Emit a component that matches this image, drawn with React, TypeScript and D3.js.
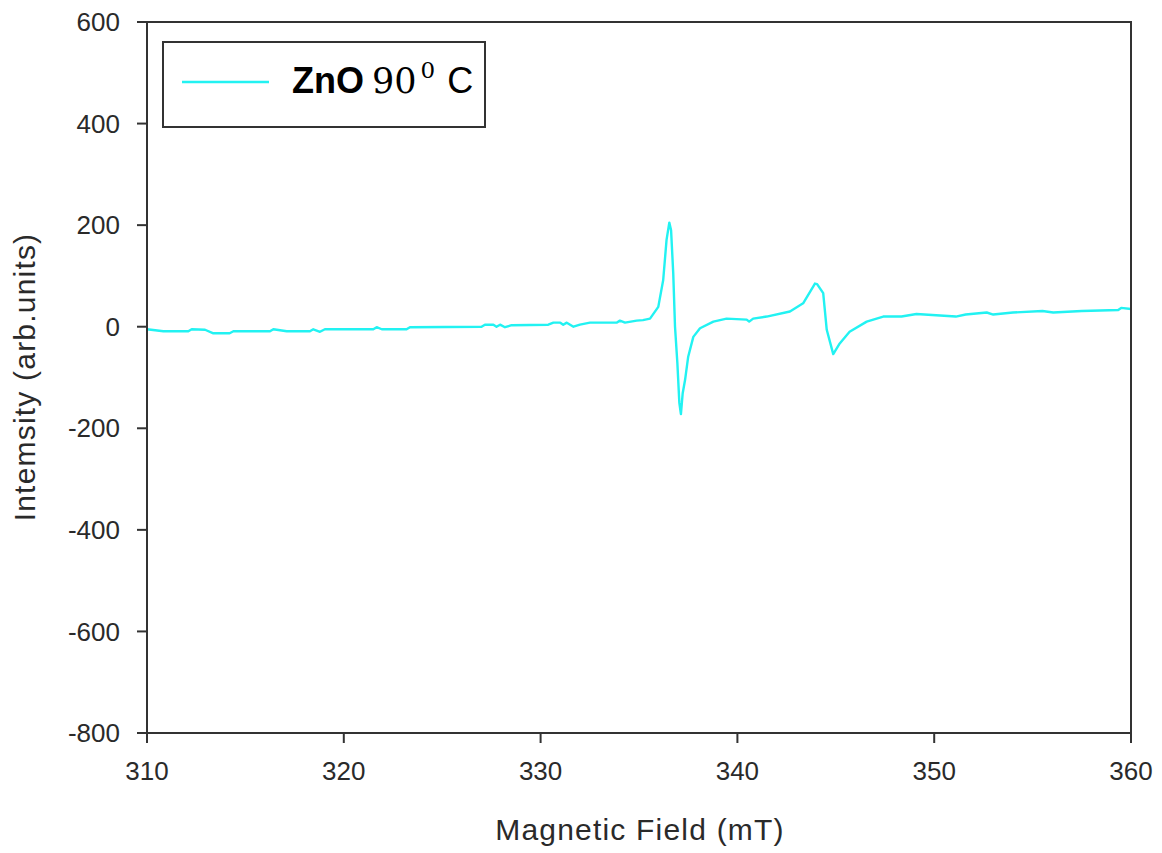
import React from "react";
import * as d3 from "d3";

const fieldMT: number[] = [
  310, 310.83, 312.1, 312.27, 312.95, 313.37, 314.2, 314.39, 316.25, 316.42, 317.1, 318.28, 318.45, 318.79, 319.04,
  321.5, 321.67, 321.93, 323.19, 323.36, 327.0, 327.17, 327.6, 327.76, 327.94, 328.19, 328.53, 330.39, 330.65, 331.0,
  331.15, 331.33, 331.67, 332.0, 332.51, 333.86, 334.03, 334.29, 334.88, 335.2, 335.56, 335.98, 336.23, 336.4, 336.54,
  336.63, 336.74, 336.83, 336.95, 337.05, 337.13, 337.22, 337.34, 337.5, 337.76, 338.1, 338.78, 339.45, 340.47, 340.6,
  340.8, 341.49, 342.67, 343.34, 343.85, 343.94, 344.05, 344.36, 344.54, 344.87, 345.2, 345.7, 346.57, 347.41, 348.34,
  349.1, 351.1, 351.6, 352.67, 353.0, 354.0, 355.5, 356.05, 357.5, 359.35, 359.5, 360,
];
const intensity: number[] = [
  -5, -9, -9, -5, -6, -13, -13, -9, -9, -5, -9, -9, -5, -10, -5,
  -5, -1, -5, -5, -1, 0, 4, 4, 0, 4, -1, 3, 4, 8, 8,
  4, 8, 0, 4, 8, 8, 12, 8, 12, 13, 16, 39, 92, 171, 205,
  190, 105, 0, -72, -150, -172, -131, -105, -59, -20, -3, 10, 16, 14, 10,
  16, 20, 30, 46, 79, 85, 84, 66, -6, -54, -33, -10, 10, 20, 20,
  25, 20, 24, 28, 24, 28, 31, 28, 31, 33, 37, 35,
];
const xTicks: number[] = [310, 320, 330, 340, 350, 360];
const yTicks: number[] = [600, 400, 200, 0, -200, -400, -600, -800];
const seriesName = "ZnO";
const xTitle = "Magnetic Field (mT)";
const yTitle = "Intemsity (arb.units)";

export default function App() {
  const W = 1162, H = 853;
  const left = 147, right = 1131, top = 22, bottom = 733;
  const x = d3.scaleLinear().domain([310, 360]).range([left, right]);
  const y = d3.scaleLinear().domain([-800, 600]).range([bottom, top]);
  const pts = fieldMT.map((f, i) => [f, intensity[i]] as [number, number]);
  const line = d3.line<[number, number]>().x(d => x(d[0])).y(d => y(d[1]));
  const axisColor = "#333";
  const textColor = "#2a2a2a";
  const font = "'Liberation Sans', Arial, sans-serif";
  return (
    <svg width={W} height={H} style={{ position: "absolute", left: 0, top: 0, background: "#fff" }}>
      <rect x={0} y={0} width={W} height={H} fill="#fff" />
      <path d={line(pts) || ""} fill="none" stroke="#22f2f2" strokeWidth={2.4} strokeLinejoin="round" />
      <rect x={left} y={top} width={right - left} height={bottom - top} fill="none" stroke={axisColor} strokeWidth={2} />
      {xTicks.map(t => (
        <g key={"x" + t}>
          <line x1={x(t)} x2={x(t)} y1={bottom} y2={bottom + 10} stroke={axisColor} strokeWidth={2} />
          <text x={x(t)} y={780} textAnchor="middle" fontFamily={font} fontSize={26} fill={textColor}>{t}</text>
        </g>
      ))}
      {yTicks.map(t => (
        <g key={"y" + t}>
          <line x1={left - 10} x2={left} y1={y(t)} y2={y(t)} stroke={axisColor} strokeWidth={2} />
          <text x={120} y={y(t)} dy="0.35em" textAnchor="end" fontFamily={font} fontSize={26} fill={textColor}>{t}</text>
        </g>
      ))}
      <text x={640} y={840} textAnchor="middle" fontFamily={font} fontSize={30} letterSpacing={1.2} fill={textColor}>{xTitle}</text>
      <text transform={`translate(35,377) rotate(-90)`} textAnchor="middle" fontFamily={font} fontSize={30} letterSpacing={1.2} fill={textColor}>{yTitle}</text>
      <rect x={163} y={42} width={322} height={85} fill="#fff" stroke={axisColor} strokeWidth={2} />
      <line x1={182} x2={269} y1={82} y2={82} stroke="#22f2f2" strokeWidth={2.4} />
      <text x={292} y={93} fontFamily={font} fontSize={36} fill="#000">
        <tspan fontWeight="bold">{seriesName}</tspan>
        <tspan dx={8} fontFamily="'DejaVu Serif', serif" fontSize={35}>90</tspan>
        <tspan dy={-15} dx={4} fontFamily="'DejaVu Serif', serif" fontSize={23}>0</tspan>
        <tspan dy={15} dx={12}>C</tspan>
      </text>
    </svg>
  );
}
